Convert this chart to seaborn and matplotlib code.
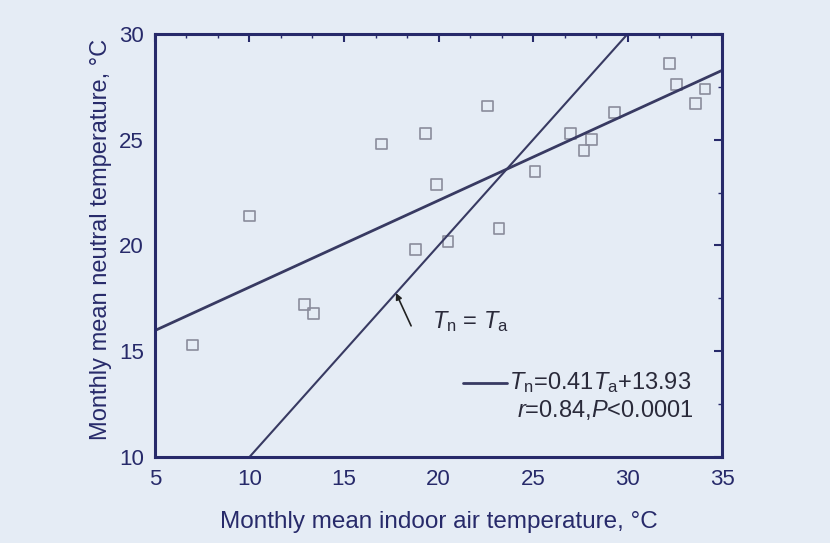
import matplotlib
matplotlib.use("Agg")
import matplotlib.pyplot as plt
import seaborn as sns
import numpy as np
import pandas as pd
from matplotlib.ticker import AutoMinorLocator

# Data
ta = [7.0, 10.0, 12.9, 13.4, 17.0, 19.3, 18.8, 19.9, 20.5, 22.6, 23.2, 25.1,
      27.0, 27.7, 28.1, 29.3, 32.2, 32.6, 33.6, 34.1]
tn = [15.3, 21.4, 17.2, 16.8, 24.8, 25.3, 19.8, 22.9, 20.2, 26.6, 20.8, 23.5,
      25.3, 24.5, 25.0, 26.3, 28.6, 27.6, 26.7, 27.4]
fit_slope = 0.41
fit_intercept = 13.93
fit_range = [5, 35]
identity_range = [10, 30]
x_ticks = [5, 10, 15, 20, 25, 30, 35]
y_ticks = [10, 15, 20, 25, 30]

navy = "#272a6a"
bg = "#e5ecf5"
line_col = "#383a62"
txt_col = "#2a2a3a"

sns.set_theme(style="white")
plt.rcParams["font.family"] = ["Liberation Sans", "DejaVu Sans"]
plt.rcParams["mathtext.fontset"] = "custom"
plt.rcParams["mathtext.rm"] = "Liberation Sans"
plt.rcParams["mathtext.it"] = "Liberation Sans:italic"

fig = plt.figure(figsize=(8.3, 5.43), dpi=100, facecolor=bg)
ax = fig.add_axes([0.1867, 0.1584, 0.6833, 0.779])
ax.set_facecolor(bg)

df = pd.DataFrame({"ta": ta, "tn": tn})
fit_df = pd.DataFrame({"x": fit_range,
                       "y": [fit_slope * v + fit_intercept for v in fit_range]})
id_df = pd.DataFrame({"x": identity_range, "y": identity_range})

sns.lineplot(data=fit_df, x="x", y="y", ax=ax, color=line_col, lw=2.0)
sns.lineplot(data=id_df, x="x", y="y", ax=ax, color=line_col, lw=1.5)
sns.scatterplot(data=df, x="ta", y="tn", ax=ax, marker="s", s=60,
                facecolor="none", edgecolor="#8a8c9c", linewidth=1.2)

ax.set_xlim(5, 35)
ax.set_ylim(10, 30)
ax.set_xticks(x_ticks)
ax.set_yticks(y_ticks)
ax.xaxis.set_minor_locator(AutoMinorLocator(3))
ax.yaxis.set_minor_locator(AutoMinorLocator(2))

for s in ax.spines.values():
    s.set_color(navy)
    s.set_linewidth(2.2)

ax.tick_params(axis="both", which="both", colors=navy, labelcolor=navy,
               labelsize=16, top=True, right=True)
ax.tick_params(axis="x", which="major", direction="out", length=6, width=1.5, pad=3)
ax.tick_params(axis="x", which="minor", direction="out", length=3, width=1.0)
ax.tick_params(axis="y", which="major", direction="out", length=6, width=1.5, pad=2)
ax.tick_params(axis="y", which="minor", direction="out", length=3, width=1.0)

# inward ticks on top/right
for t in ax.xaxis.get_major_ticks() + ax.xaxis.get_minor_ticks():
    t.tick2line.set_marker(3)  # down-pointing
for t in ax.yaxis.get_major_ticks() + ax.yaxis.get_minor_ticks():
    t.tick2line.set_marker(0)  # left-pointing

ax.set_xlabel("Monthly mean indoor air temperature, °C", fontsize=17.5,
              color=navy, labelpad=15)
ax.set_ylabel("Monthly mean neutral temperature, °C", fontsize=17,
              color=navy)
ax.yaxis.set_label_coords(-0.076, 0.515)

ax.annotate("", xy=(17.75, 17.75), xytext=(18.55, 16.2),
            arrowprops=dict(arrowstyle="-|>", color="#222", lw=1.2,
                            shrinkA=0, shrinkB=0, mutation_scale=9))
ax.text(19.65, 16.4, r"$T_\mathrm{n}$ = $T_\mathrm{a}$", fontsize=17,
        color=txt_col, va="center", ha="left")

ax.plot([21.3, 23.6], [13.5, 13.5], color=line_col, lw=2.0)
ax.text(23.75, 13.5, r"$T_\mathrm{n}$=0.41$T_\mathrm{a}$+13.93", fontsize=17,
        color=txt_col, va="center", ha="left")
ax.text(24.15, 12.2, r"$r$=0.84,$P$<0.0001", fontsize=17,
        color=txt_col, va="center", ha="left")

fig.savefig("out.png", dpi=100, facecolor=bg)
